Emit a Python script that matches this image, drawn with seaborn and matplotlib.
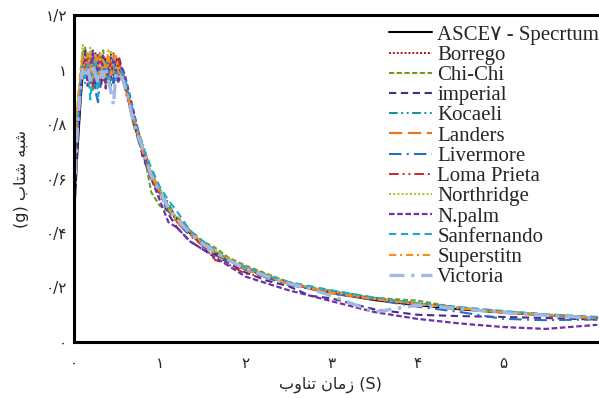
import matplotlib
matplotlib.use("Agg")
import matplotlib.pyplot as plt
from matplotlib.font_manager import FontProperties
import seaborn as sns
import pandas as pd

# ---------------- data ----------------
periods = [0.0, 0.04, 0.08, 0.1, 0.13, 0.16, 0.19, 0.22, 0.25, 0.28, 0.31, 0.34, 0.37, 0.4,
           0.43, 0.46, 0.49, 0.52, 0.56, 0.6, 0.7, 0.8, 0.9, 1.0, 1.1, 1.2, 1.35, 1.5, 1.65,
           1.8, 2.0, 2.25, 2.5, 2.75, 3.0, 3.5, 4.0, 4.5, 5.0, 5.5, 6.1]

asce7 = [0.45, 0.70, 0.90, 0.98, 1.0, 1.0, 1.0, 1.0, 1.0, 1.0, 1.0, 1.0, 1.0, 1.0, 1.0, 1.0, 1.0, 1.0,
         0.98, 0.94, 0.80, 0.70, 0.615, 0.55, 0.491, 0.45, 0.40, 0.36, 0.327, 0.30, 0.27, 0.24,
         0.216, 0.196, 0.18, 0.154, 0.135, 0.12, 0.108, 0.098, 0.089]
borrego = [0.55, 0.80, 0.97, 1.02, 0.98, 1.04, 0.95, 1.01, 1.06, 0.97, 0.99, 1.03, 0.94, 1.00,
           1.05, 0.98, 1.02, 1.00, 0.97, 0.93, 0.80, 0.70, 0.62, 0.55, 0.50, 0.44, 0.41, 0.35,
           0.33, 0.30, 0.265, 0.245, 0.21, 0.20, 0.18, 0.158, 0.142, 0.122, 0.11, 0.10, 0.087]
chichi = [0.60, 0.84, 0.99, 1.06, 1.08, 0.96, 1.03, 0.92, 1.05, 1.00, 0.95, 1.07, 0.99, 0.96,
          1.04, 1.01, 0.97, 1.03, 0.99, 0.95, 0.82, 0.72, 0.55, 0.50, 0.48, 0.46, 0.41, 0.37,
          0.345, 0.31, 0.28, 0.25, 0.22, 0.20, 0.188, 0.162, 0.152, 0.125, 0.108, 0.10, 0.09]
imperial = [0.50, 0.76, 0.95, 1.04, 1.07, 0.99, 1.05, 0.94, 1.02, 1.06, 0.93, 1.00, 1.04, 0.97,
            1.06, 0.95, 1.03, 1.05, 1.00, 0.94, 0.83, 0.68, 0.60, 0.55, 0.47, 0.42, 0.37, 0.34,
            0.32, 0.29, 0.255, 0.225, 0.205, 0.17, 0.16, 0.12, 0.10, 0.095, 0.092, 0.088, 0.082]
kocaeli = [0.58, 0.82, 0.96, 1.00, 0.95, 1.03, 0.98, 1.05, 0.93, 1.01, 1.04, 0.96, 1.02, 0.99,
           0.94, 1.04, 1.00, 0.98, 1.01, 0.95, 0.79, 0.71, 0.61, 0.56, 0.51, 0.45, 0.40, 0.37,
           0.33, 0.30, 0.27, 0.24, 0.218, 0.198, 0.186, 0.162, 0.14, 0.125, 0.112, 0.101, 0.09]
landers = [0.62, 0.86, 0.98, 1.05, 1.02, 0.97, 1.06, 1.00, 0.96, 1.04, 1.07, 0.98, 0.95, 1.03,
           1.00, 1.06, 0.97, 1.02, 1.00, 0.96, 0.81, 0.72, 0.63, 0.55, 0.49, 0.455, 0.41, 0.36,
           0.33, 0.305, 0.275, 0.245, 0.212, 0.20, 0.182, 0.158, 0.14, 0.124, 0.11, 0.099, 0.088]
livermore = [0.52, 0.78, 0.94, 0.99, 1.01, 0.96, 1.03, 0.97, 0.92, 0.88, 0.99, 1.02, 0.97, 1.04,
             0.99, 0.95, 1.01, 0.98, 0.99, 0.94, 0.79, 0.69, 0.60, 0.54, 0.48, 0.44, 0.39, 0.355,
             0.32, 0.295, 0.265, 0.235, 0.21, 0.195, 0.178, 0.155, 0.13, 0.11, 0.085, 0.08, 0.083]
loma_prieta = [0.56, 0.81, 0.97, 1.03, 0.99, 1.05, 0.98, 0.94, 1.02, 1.00, 1.05, 0.96, 1.01, 0.98,
               1.03, 1.00, 0.96, 1.04, 0.98, 0.92, 0.80, 0.71, 0.62, 0.53, 0.50, 0.44, 0.395, 0.355,
               0.30, 0.285, 0.25, 0.24, 0.22, 0.198, 0.183, 0.16, 0.142, 0.126, 0.112, 0.10, 0.09]
northridge = [0.57, 0.83, 1.00, 1.09, 1.05, 1.00, 1.08, 0.97, 1.03, 0.99, 1.06, 1.01, 0.96, 1.04,
              1.07, 0.99, 1.02, 0.97, 0.99, 0.94, 0.82, 0.73, 0.62, 0.56, 0.50, 0.45, 0.405, 0.365,
              0.335, 0.305, 0.27, 0.245, 0.218, 0.20, 0.186, 0.16, 0.14, 0.126, 0.11, 0.10, 0.089]
npalm = [0.48, 0.75, 0.93, 1.02, 1.06, 0.94, 1.00, 1.07, 0.95, 1.03, 0.98, 1.05, 0.93, 1.01,
         0.97, 1.04, 1.00, 0.95, 1.01, 0.97, 0.84, 0.70, 0.60, 0.52, 0.44, 0.42, 0.37, 0.34,
         0.31, 0.28, 0.24, 0.215, 0.19, 0.17, 0.15, 0.11, 0.085, 0.068, 0.055, 0.048, 0.063]
sanfernando = [0.60, 0.80, 0.96, 1.01, 0.97, 1.02, 0.89, 0.99, 1.04, 0.90, 1.00, 0.97, 1.03, 0.95,
               1.00, 1.02, 0.96, 1.01, 0.99, 0.96, 0.83, 0.72, 0.64, 0.57, 0.52, 0.48, 0.41, 0.37,
               0.335, 0.30, 0.275, 0.245, 0.22, 0.205, 0.19, 0.163, 0.143, 0.128, 0.114, 0.102, 0.092]
superstitn = [0.65, 0.88, 1.01, 1.04, 0.99, 1.06, 1.01, 0.97, 1.05, 1.02, 0.96, 1.04, 1.00, 1.07,
              0.98, 1.03, 1.05, 0.99, 0.98, 0.93, 0.81, 0.70, 0.61, 0.55, 0.49, 0.44, 0.40, 0.36,
              0.325, 0.30, 0.265, 0.24, 0.213, 0.197, 0.18, 0.157, 0.138, 0.123, 0.109, 0.099, 0.088]
victoria = [0.50, 0.79, 0.95, 1.00, 0.97, 1.01, 0.96, 1.02, 0.98, 0.95, 1.00, 0.97, 1.01, 0.96,
            0.92, 0.87, 0.99, 0.98, 0.97, 0.93, 0.80, 0.71, 0.61, 0.55, 0.49, 0.45, 0.40, 0.36,
            0.33, 0.30, 0.27, 0.24, 0.215, 0.195, 0.17, 0.11, 0.135, 0.122, 0.108, 0.098, 0.087]

series_names = ["ASCE\u06F7 - Specrtum", "Borrego", "Chi-Chi", "imperial", "Kocaeli", "Landers",
                "Livermore", "Loma Prieta", "Northridge", "N.palm", "Sanfernando", "Superstitn",
                "Victoria"]
series_values = [asce7, borrego, chichi, imperial, kocaeli, landers, livermore, loma_prieta,
                 northridge, npalm, sanfernando, superstitn, victoria]

x_ticks = [0, 1, 2, 3, 4, 5]
x_tick_labels = ["\u06F0", "\u06F1", "\u06F2", "\u06F3", "\u06F4", "\u06F5"]
y_ticks = [0, 0.2, 0.4, 0.6, 0.8, 1.0, 1.2]
y_tick_labels = ["\u06F0", "\u06F0/\u06F2", "\u06F0/\u06F4", "\u06F0/\u06F6", "\u06F0/\u06F8",
                 "\u06F1", "\u06F1/\u06F2"]

# Persian labels (pre-shaped, visual order)
x_label = "\uFE8F\uFEED\uFE8E\uFEE8\uFE97 \uFEE5\uFE8E\uFEE3\uFEAF (S)"
y_label = "(g) \uFE8F\uFE8E\uFE98\uFEB7 \uFEEA\uFE92\uFEB7"

# ---------------- styles ----------------
styles = {
    "ASCE\u06F7 - Specrtum": dict(color="#000000", ls="-", lw=1.5),
    "Borrego": dict(color="#b01818", ls=(0, (1, 1)), lw=1.4),
    "Chi-Chi": dict(color="#6f9a22", ls=(0, (2.5, 1.2)), lw=1.5),
    "imperial": dict(color="#4a2a8a", ls=(0, (3.5, 2.2)), lw=1.5),
    "Kocaeli": dict(color="#1a8aa3", ls=(0, (4.5, 1.8, 1, 1.8, 1, 1.8)), lw=1.4),
    "Landers": dict(color="#e8761e", ls=(0, (6, 2.5)), lw=1.6),
    "Livermore": dict(color="#2d6ac2", ls=(0, (6, 2.5, 1, 2.5)), lw=1.5),
    "Loma Prieta": dict(color="#d42424", ls=(0, (5, 2, 1, 2, 1, 2)), lw=1.4),
    "Northridge": dict(color="#a8c838", ls=(0, (1, 1)), lw=1.5),
    "N.palm": dict(color="#6f30a8", ls=(0, (2.5, 1.2)), lw=1.6),
    "Sanfernando": dict(color="#1ea8d8", ls=(0, (3.5, 2.2)), lw=1.5),
    "Superstitn": dict(color="#ff8a18", ls=(0, (3.5, 1.8, 1, 1.8)), lw=1.5),
    "Victoria": dict(color="#a3b9e2", ls=(0, (4.5, 2, 1, 2)), lw=2.4),
}

# ---------------- figure ----------------
sns.set_theme(style="white")
plt.rcParams["font.family"] = ["DejaVu Sans"]

fig = plt.figure(figsize=(5.99, 3.98), dpi=100)
ax = fig.add_axes([74 / 599, 56 / 398, 1 - 74 / 599, (342 - 15) / 398])

for name, vals in zip(series_names, series_values):
    st = styles[name]
    df = pd.DataFrame({"T": periods, "Sa": vals})
    sns.lineplot(data=df, x="T", y="Sa", ax=ax, color=st["color"], linestyle=st["ls"],
                 linewidth=st["lw"], label=name, estimator=None, sort=False)

ax.set_xlim(0, 6.12)
ax.set_ylim(0, 1.2)
ax.set_xticks(x_ticks)
ax.set_xticklabels(x_tick_labels, fontsize=11)
ax.set_yticks(y_ticks)
ax.set_yticklabels(y_tick_labels, fontsize=11)
ax.tick_params(axis="both", direction="in", length=5, width=1.5, color="black")
ax.tick_params(axis="x", pad=10)
ax.tick_params(axis="y", pad=5)

for side in ["left", "bottom", "top"]:
    ax.spines[side].set_visible(True)
    ax.spines[side].set_color("black")
    ax.spines[side].set_linewidth(2.2)
ax.spines["right"].set_visible(False)

ax.set_xlabel(x_label, fontsize=11.5, labelpad=2)
ax.xaxis.set_label_coords((330 - 74) / (599 - 74), -0.105)
ax.set_ylabel(y_label, fontsize=11.5, labelpad=12)

leg = ax.legend(loc="upper right", bbox_to_anchor=(1.0, 0.937), bbox_transform=fig.transFigure,
                frameon=False, borderaxespad=0, borderpad=0, handlelength=2.05,
                handletextpad=0.25, labelspacing=0.03,
                prop=FontProperties(family=["Liberation Serif", "DejaVu Sans"], size=15))

fig.savefig("out.png", dpi=100)
